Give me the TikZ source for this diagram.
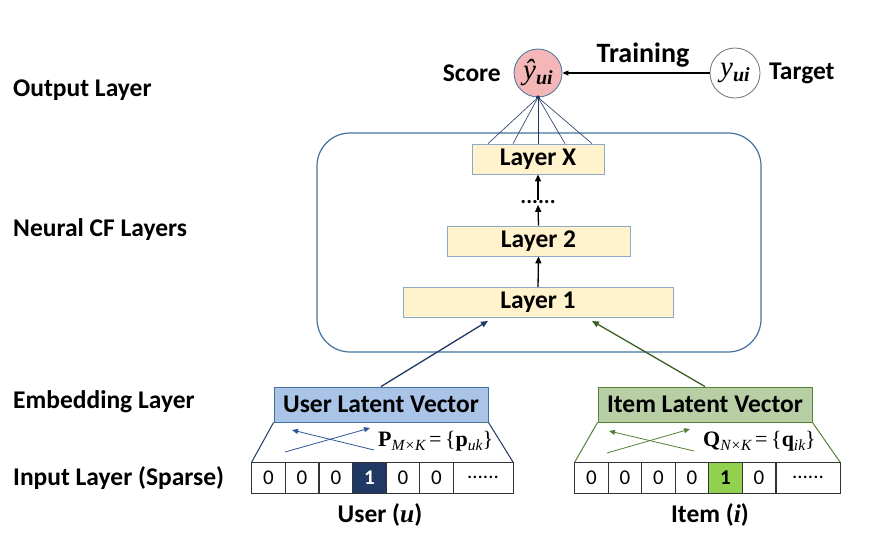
\documentclass[tikz,border=0pt]{standalone}
\usepackage{fontspec}
\setmainfont{Carlito}
\newfontfamily\tnr{Liberation Serif}
\usetikzlibrary{arrows.meta,calc}
\definecolor{frame}{HTML}{41719C}
\definecolor{layerborder}{HTML}{8EA9C8}
\definecolor{layerfill}{HTML}{FFF2CC}
\definecolor{scorefill}{HTML}{F4B6B6}
\definecolor{navy}{HTML}{203864}
\definecolor{uarrow}{HTML}{2F5597}
\definecolor{ufill}{HTML}{A9C4E6}
\definecolor{ifill}{HTML}{B8CFA6}
\definecolor{iborder}{HTML}{538135}
\definecolor{igreen}{HTML}{92D050}
\definecolor{darkgreen}{HTML}{3B5E22}
\begin{document}
\begin{tikzpicture}[x=1pt,y=-1pt,
  lab/.style={font=\fontsize{25.5}{28}\selectfont\bfseries, inner sep=0pt},
  layerbox/.style={draw=layerborder, fill=layerfill, line width=0.8pt, inner sep=0pt, minimum height=30pt, font=\fontsize{25.5}{28}\selectfont\bfseries},
  cellbox/.style={draw=black!80, line width=0.7pt, minimum width=33.5pt, minimum height=31pt, inner sep=0pt, outer sep=0pt, font=\fontsize{21}{24}\selectfont},
  vecbox/.style={line width=0.9pt, minimum width=214pt, minimum height=35pt, inner sep=0pt, font=\fontsize{25.5}{28}\selectfont\bfseries},
  arr/.style={-{Triangle[length=7pt,width=6pt]}, line width=1.3pt},
  thinarr/.style={-{Triangle[length=6pt,width=5pt]}, line width=0.8pt},
  formula/.style={inner sep=0pt, font=\tnr\fontsize{22}{22}\selectfont}
]
\useasboundingbox (0,0) rectangle (882,550);

% left labels
\node[lab, anchor=west] (lout) at (13,90) {Output Layer};
\node[lab, anchor=west] (lcf) at (13,230) {Neural CF Layers};
\node[lab, anchor=west] (lemb) at (13,402) {Embedding Layer};
\node[lab, anchor=west] (linp) at (13,478) {Input Layer (Sparse)};

% neural CF frame
\node[draw=frame, line width=1.2pt, rounded corners=33pt, minimum width=444pt, minimum height=219pt, inner sep=0pt] (cf) at (539,242.5) {};

% layers
\node[layerbox, minimum width=132pt] (lx) at (538,159) {Layer X};
\node[layerbox, minimum width=183pt] (l2) at (538.5,241) {Layer 2};
\node[layerbox, minimum width=270pt] (l1) at (538,302.5) {Layer 1};
\node[inner sep=0pt, font=\fontsize{22}{24}\selectfont\bfseries] (dots) at (538,202) {......};
\draw[arr] (l1.north) -- (l2.south);
\draw[arr] (l2.north) -- ($(dots.south)+(0,1)$);
\draw[arr] (dots.north) -- (lx.south);

% output
\node[circle, draw=frame, fill=scorefill, line width=0.8pt, minimum size=48pt, inner sep=0pt] (score) at (538,73)
  {\tnr\fontsize{29}{29}\selectfont\itshape ŷ\raisebox{-5pt}{\fontsize{20}{20}\selectfont\bfseries ui}};
\node[circle, draw=black!55, fill=white, line width=0.8pt, minimum size=50pt, inner sep=0pt] (target) at (735,73)
  {\tnr\fontsize{29}{29}\selectfont\itshape y\raisebox{-5pt}{\fontsize{20}{20}\selectfont\bfseries ui}};
\node[lab, anchor=east] (lscore) at (501,73) {Score};
\node[lab, anchor=west] (ltarget) at (769,73) {Target};
\node[inner sep=0pt, font=\fontsize{28}{30}\selectfont\bfseries] (ltrain) at (643,55) {Training};
\draw[thinarr, line width=1.1pt] (target.west) -- (score.east);
\foreach \dx in {-50,-25,0,27,54}
  \draw[navy, line width=0.6pt] (score.south) -- ($(lx.north)+(\dx,0)$);
\fill[navy] (score.south) circle (2pt);

% embedding boxes
\node[vecbox, draw=frame, fill=ufill] (ub) at (381,404.5) {User Latent Vector};
\node[vecbox, draw=iborder, fill=ifill] (ib) at (705,404.5) {Item Latent Vector};
\coordinate (uend) at ($(l1.south)+(-50,3)$);
\coordinate (iend) at ($(l1.south)+(54,3)$);
\draw[arr, navy] (ub.north) -- (uend);
\draw[arr, darkgreen] (ib.north) -- (iend);

% input cells user
\foreach \i/\x/\t in {1/268.5/0,2/302/0,3/336/0,5/403/0,6/436.5/0}
  \node[cellbox] (u\i) at (\x,477.5) {\t};
\node[cellbox, fill=navy, text=white, font=\fontsize{21}{24}\selectfont\bfseries] (u4) at (369.5,477.5) {1};
\node[cellbox, minimum width=60pt] (u7) at (483,477.5) {......};
% input cells item
\foreach \i/\x/\t in {1/591.5/0,2/625/0,3/658.5/0,4/692/0,6/759/0}
  \node[cellbox] (i\i) at (\x,477.5) {\t};
\node[cellbox, fill=igreen, font=\fontsize{21}{24}\selectfont\bfseries] (i5) at (725.5,477.5) {1};
\node[cellbox, minimum width=64pt] (i7) at (808,477.5) {......};

% trapezoid sides
\draw[navy, line width=1pt] (ub.south west) -- (u1.north west);
\draw[navy, line width=1pt] (ub.south east) -- (u7.north east);
\draw[iborder, line width=1pt] (ib.south west) -- (i1.north west);
\draw[iborder, line width=1pt] (ib.south east) -- (i7.north east);

% cross arrows
\coordinate (ua1) at (285,452); \coordinate (ua2) at (370,428);
\coordinate (ub1) at (374,450); \coordinate (ub2) at (292,430);
\draw[thinarr, uarrow] (ua1) -- (ua2);
\draw[thinarr, uarrow] (ub1) -- (ub2);
\coordinate (ia1) at (607,453); \coordinate (ia2) at (690,429);
\coordinate (ib1) at (694,451); \coordinate (ib2) at (609,431);
\draw[thinarr, iborder] (ia1) -- (ia2);
\draw[thinarr, iborder] (ib1) -- (ib2);

% formulas
\node[formula, anchor=west] (pform) at (378,441)
  {\textbf{P}\raisebox{-4pt}{\fontsize{15.5}{15.5}\selectfont\itshape M×K}\,=\,\{\textbf{p}\raisebox{-4pt}{\fontsize{15.5}{15.5}\selectfont\itshape uk}\}};
\node[formula, anchor=west] (qform) at (703,441)
  {\textbf{Q}\raisebox{-4pt}{\fontsize{15.5}{15.5}\selectfont\itshape N×K}\,=\,\{\textbf{q}\raisebox{-4pt}{\fontsize{15.5}{15.5}\selectfont\itshape ik}\}};

% bottom labels
\node[lab] (luser) at (380,515) {User ({\tnr\bfseries\itshape u})};
\node[lab] (litem) at (710,515) {Item ({\tnr\bfseries\itshape i})};
\end{tikzpicture}
\end{document}
